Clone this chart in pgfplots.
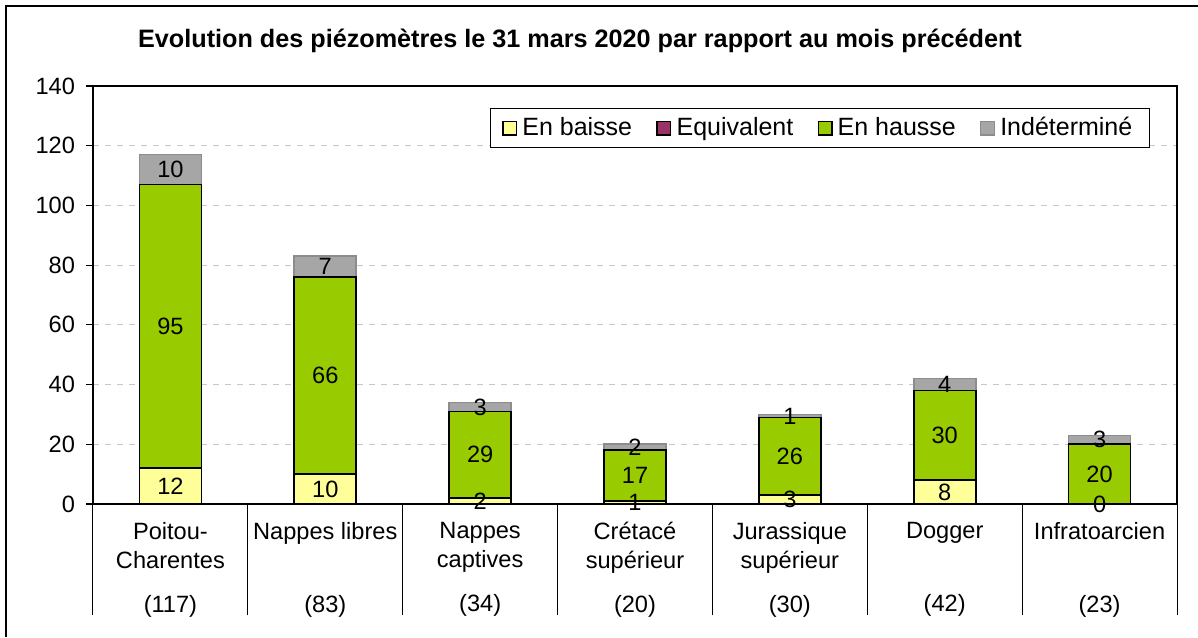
\documentclass[border=0pt]{standalone}
\usepackage{fontspec}
\setmainfont{Liberation Sans}
\usepackage{pgfplots}
\pgfplotsset{compat=1.18}

\definecolor{baisse}{HTML}{FFFF99}
\definecolor{equiv}{HTML}{993366}
\definecolor{hausse}{HTML}{99CC00}
\definecolor{indet}{HTML}{A6A6A6}
\definecolor{indetline}{HTML}{8C8C8C}
\definecolor{gridc}{HTML}{C8C8C8}

\newcommand\chartfont{\fontsize{11.8}{14.5}\selectfont}
\newcommand\legfont{\fontsize{12.5}{15}\selectfont}

\pgfplotsset{
  chartbase/.style={
    scale only axis, width=542pt, height=209pt,
    at={(46.5pt,66.5pt)}, anchor=south west,
    xmin=-0.5, xmax=6.5, ymin=0, ymax=140,
  },
}

\begin{document}
\begin{tikzpicture}
\path[use as bounding box] (0,0) rectangle (599pt,318.5pt);
\draw[line width=0.8pt] (3pt,0) -- (3pt,315.5pt) -- (599pt,315.5pt);
\node[font=\bfseries\fontsize{12.6}{15}\selectfont] at (290pt,298pt)
  {Evolution des piézomètres le 31 mars 2020 par rapport au mois précédent};

% stacked bars
\begin{axis}[
  chartbase,
  ybar stacked,
  bar width=31pt,
  axis line style={black, line width=0.6pt},
  ytick={0,20,...,140},
  ymajorgrids=true,
  major grid style={gridc, dash pattern=on 3pt off 3pt, line width=0.5pt},
  tick pos=left,
  ytick align=outside,
  y tick style={black, line width=0.6pt},
  major tick length=3.5pt,
  xtick={0,...,6},
  x tick style={draw=none},
  xticklabels={
    {Poitou-\\Charentes\\[7.5pt](117)},
    {Nappes libres\\\strut\\[7.5pt](83)},
    {Nappes\\captives\\[7.5pt](34)},
    {Crétacé\\supérieur\\[7.5pt](20)},
    {Jurassique\\supérieur\\[7.5pt](30)},
    {Dogger\\\strut\\[7.5pt](42)},
    {Infratoarcien\\\strut\\[7.5pt](23)}
  },
  xticklabel style={align=center, anchor=north, yshift=-5.5pt, font=\chartfont},
  yticklabel style={font=\chartfont, xshift=-2pt},
  /pgf/number format/assume math mode=true,
  extra x ticks={-0.5,0.5,1.5,2.5,3.5,4.5,5.5,6.5},
  extra x tick labels={},
  extra x tick style={
    tick align=outside,
    major tick length=55.5pt,
    x tick style={draw=black, line width=0.5pt},
  },
  legend columns=4,
  legend style={
    at={(1,1)}, anchor=north east, xshift=-13.5pt, yshift=-11pt,
    draw=black, line width=0.5pt, font=\legfont,
    inner xsep=6pt, inner ysep=2.5pt,
    nodes={inner xsep=2.6pt},
    /tikz/every even column/.append style={column sep=9.5pt},
  },
  legend image code/.code={
    \draw[#1, line width=0.7pt] (0pt,-3.4pt) rectangle (6.8pt,3.4pt);
  },
]
\addplot[fill=baisse, draw=black, line width=0.8pt] coordinates {
  (0,12) (1,10) (2,2) (3,1) (4,3) (5,8) (6,0)
};
\addplot[fill=equiv, draw=black, line width=0.8pt] coordinates {
  (0,0) (1,0) (2,0) (3,0) (4,0) (5,0) (6,0)
};
\addplot[fill=hausse, draw=black, line width=0.8pt] coordinates {
  (0,95) (1,66) (2,29) (3,17) (4,26) (5,30) (6,20)
};
\addplot[fill=indet, draw=indetline, line width=0.8pt] coordinates {
  (0,10) (1,7) (2,3) (3,2) (4,1) (5,4) (6,3)
};
\legend{En baisse, Equivalent, En hausse, Indéterminé}
\end{axis}

% value labels, centred in each segment
\begin{axis}[
  chartbase,
  hide axis,
  clip=false,
  point meta=explicit symbolic,
  nodes near coords={\pgfplotspointmeta},
  every node near coord/.style={anchor=center, font=\chartfont, inner sep=0pt},
]
\addplot[only marks, mark=none] coordinates {
  (0,6)[12]   (0,59.5)[95] (0,112)[10]
  (1,5)[10]   (1,43)[66]   (1,79.5)[7]
  (2,1)[2]    (2,16.5)[29] (2,32.5)[3]
  (3,0.5)[1]  (3,9.5)[17]  (3,19)[2]
  (4,1.5)[3]  (4,16)[26]   (4,29.5)[1]
  (5,4)[8]    (5,23)[30]   (5,40)[4]
  (6,0)[0]    (6,10)[20]   (6,21.5)[3]
};
\end{axis}
\end{tikzpicture}
\end{document}
